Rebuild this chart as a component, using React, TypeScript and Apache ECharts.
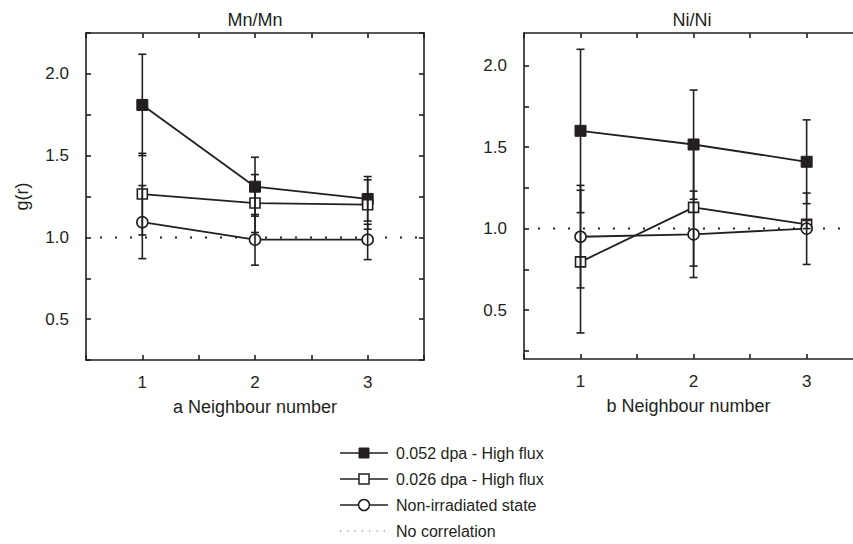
import React, { useEffect, useRef } from "react";
import * as echarts from "echarts";

// ---------- data ----------
const neighbours = [1, 2, 3];

// Panel a: Mn/Mn
const mnHigh052 = [1.81, 1.31, 1.235];
const mnHigh052Low = [1.5, 1.13, 1.1];
const mnHigh052High = [2.12, 1.49, 1.372];
const mnHigh026 = [1.265, 1.21, 1.2];
const mnHigh026Low = [1.015, 1.03, 1.05];
const mnHigh026High = [1.514, 1.384, 1.352];
const mnNonIrr = [1.093, 0.986, 0.986];
const mnNonIrrLow = [0.87, 0.83, 0.864];
const mnNonIrrHigh = [1.317, 1.14, 1.08];

// Panel b: Ni/Ni
const niHigh052 = [1.6, 1.516, 1.41];
const niHigh052Low = [1.098, 1.18, 1.153];
const niHigh052High = [2.1, 1.85, 1.667];
const niHigh026 = [0.796, 1.13, 1.026];
const niHigh026Low = [0.36, 0.77, 1.0];
const niHigh026High = [1.235, 1.49, 1.05];
const niNonIrr = [0.95, 0.965, 1.0];
const niNonIrrLow = [0.636, 0.7, 0.78];
const niNonIrrHigh = [1.265, 1.23, 1.218];

const noCorrelation = 1.0;

const xTickValues = [0.5, 1, 1.5, 2, 2.5, 3, 3.5];
const xLabelValues = [1, 2, 3];
const yTickValues = [0.25, 0.5, 0.75, 1.0, 1.25, 1.5, 1.75, 2.0, 2.25];
const yLabelValues = [0.5, 1.0, 1.5, 2.0];

const seriesNames = [
  "0.052 dpa - High flux",
  "0.026 dpa - High flux",
  "Non-irradiated state",
  "No correlation",
];
const panelTitles = ["Mn/Mn", "Ni/Ni"];
const xAxisTitles = ["a Neighbour number", "b Neighbour number"];
const yAxisTitle = "g(r)";

// ---------- styling ----------
const INK = "#231f20";
const FONT = "Liberation Sans, Arial, sans-serif";
const FS_TICK = 17;
const FS_NAME = 18;
const FS_LEGEND = 16;
const LW = 1.8;

function pts(vals: number[]) {
  return neighbours.map((x, i) => [x, vals[i]]);
}
function errs(lo: number[], hi: number[]) {
  return neighbours.map((x, i) => [x, lo[i], hi[i]]);
}

function renderErrorBar(_params: any, api: any) {
  const x = api.value(0);
  const lo = api.value(1);
  const hi = api.value(2);
  const p1 = api.coord([x, lo]);
  const p2 = api.coord([x, hi]);
  const w = 4;
  const style = { stroke: INK, lineWidth: 1.6, fill: "none" };
  return {
    type: "group",
    children: [
      { type: "line", shape: { x1: p1[0], y1: p1[1], x2: p2[0], y2: p2[1] }, style },
      { type: "line", shape: { x1: p1[0] - w, y1: p1[1], x2: p1[0] + w, y2: p1[1] }, style },
      { type: "line", shape: { x1: p2[0] - w, y1: p2[1], x2: p2[0] + w, y2: p2[1] }, style },
    ],
  };
}

function xAxisDef(gridIndex: number, max: number, position: "bottom" | "top", name?: string) {
  const bottom = position === "bottom";
  return {
    type: "value",
    gridIndex,
    position,
    min: 0.5,
    max,
    name: name || "",
    nameLocation: "middle",
    nameGap: 38,
    nameTextStyle: { color: INK, fontSize: FS_NAME, fontFamily: FONT },
    axisLine: { show: true, onZero: false, lineStyle: { color: INK, width: 1.6 } },
    axisTick: {
      show: true,
      inside: true,
      length: 5,
      customValues: xTickValues.filter((v) => v <= max),
      lineStyle: { color: INK, width: 1.6 },
    },
    axisLabel: {
      show: bottom,
      customValues: xLabelValues,
      margin: 14,
      color: INK,
      fontSize: FS_TICK,
      fontFamily: FONT,
      formatter: (v: number) => String(v),
    },
    splitLine: { show: false },
  };
}

function yAxisDef(
  gridIndex: number,
  min: number,
  max: number,
  position: "left" | "right",
  name?: string
) {
  const left = position === "left";
  return {
    type: "value",
    gridIndex,
    position,
    min,
    max,
    name: name || "",
    nameLocation: "middle",
    nameGap: 55,
    nameTextStyle: { color: INK, fontSize: FS_NAME, fontFamily: FONT },
    axisLine: { show: true, onZero: false, lineStyle: { color: INK, width: 1.6 } },
    axisTick: {
      show: true,
      inside: true,
      length: 5,
      customValues: yTickValues.filter((v) => v >= min && v <= max),
      lineStyle: { color: INK, width: 1.6 },
    },
    axisLabel: {
      show: left,
      customValues: yLabelValues,
      margin: 17,
      color: INK,
      fontSize: FS_TICK,
      fontFamily: FONT,
      formatter: (v: number) => v.toFixed(1),
    },
    splitLine: { show: false },
  };
}

function panelSeries(
  xIdx: number,
  yIdx: number,
  h052: number[], h052lo: number[], h052hi: number[],
  h026: number[], h026lo: number[], h026hi: number[],
  nonIrr: number[], nonIrrLo: number[], nonIrrHi: number[]
) {
  const lineStyle = { color: INK, width: LW };
  const common = {
    type: "line",
    xAxisIndex: xIdx,
    yAxisIndex: yIdx,
    z: 3,
    lineStyle,
    showSymbol: true,
  };
  const errCommon = {
    type: "custom",
    xAxisIndex: xIdx,
    yAxisIndex: yIdx,
    renderItem: renderErrorBar,
    encode: { x: 0, y: [1, 2] },
    z: 4,
    silent: true,
  };
  return [
    {
      ...common,
      name: seriesNames[3],
      data: [[0.5, noCorrelation], [3.5, noCorrelation]],
      showSymbol: false,
      symbol: "none",
      z: 1,
      itemStyle: { color: INK },
      lineStyle: { color: INK, width: 2, type: [2, 13], dashOffset: 1 },
    },
    { ...errCommon, name: "err052", data: errs(h052lo, h052hi) },
    { ...errCommon, name: "err026", data: errs(h026lo, h026hi) },
    { ...errCommon, name: "errNon", data: errs(nonIrrLo, nonIrrHi) },
    {
      ...common,
      name: seriesNames[0],
      data: pts(h052),
      symbol: "rect",
      symbolSize: 11,
      itemStyle: { color: INK, borderColor: INK, borderWidth: 1 },
    },
    {
      ...common,
      name: seriesNames[1],
      data: pts(h026),
      symbol: "rect",
      symbolSize: 10,
      itemStyle: { color: "#ffffff", borderColor: INK, borderWidth: 1.6 },
    },
    {
      ...common,
      name: seriesNames[2],
      data: pts(nonIrr),
      symbol: "circle",
      symbolSize: 11,
      itemStyle: { color: "#ffffff", borderColor: INK, borderWidth: 1.6 },
    },
  ];
}

function textEl(x: number, y: number, text: string, size: number, align: string) {
  return {
    type: "text",
    x,
    y,
    style: {
      text,
      align,
      verticalAlign: "middle",
      fill: INK,
      fontSize: size,
      fontFamily: FONT,
    },
  };
}

function legendGraphics() {
  const x0 = 340;
  const x1 = 388;
  const xm = 364;
  const tx = 396;
  const rows = [453, 479, 505, 531];
  const els: any[] = [];
  rows.forEach((y, i) => {
    if (i < 3) {
      els.push({
        type: "line",
        shape: { x1: x0, y1: y, x2: x1, y2: y },
        style: { stroke: INK, lineWidth: 1.5 },
      });
    } else {
      els.push({
        type: "line",
        shape: { x1: x0, y1: y, x2: x1 - 2, y2: y },
        style: { stroke: "#555", lineWidth: 1, lineDash: [1, 6.3] },
      });
    }
    if (i === 0) {
      els.push({ type: "rect", shape: { x: xm - 5, y: y - 5, width: 10, height: 10 }, style: { fill: INK, stroke: INK, lineWidth: 1 } });
    } else if (i === 1) {
      els.push({ type: "rect", shape: { x: xm - 5, y: y - 5, width: 10, height: 10 }, style: { fill: "#fff", stroke: INK, lineWidth: 1.5 } });
    } else if (i === 2) {
      els.push({ type: "circle", shape: { cx: xm, cy: y, r: 5.5 }, style: { fill: "#fff", stroke: INK, lineWidth: 1.5 } });
    }
    els.push(textEl(tx, y, seriesNames[i], FS_LEGEND, "left"));
  });
  return els;
}

export default function App() {
  const ref = useRef<HTMLDivElement>(null);
  useEffect(() => {
    if (!ref.current) return;
    const chart = echarts.init(ref.current, undefined, { renderer: "svg" });
    const option: any = {
      animation: false,
      backgroundColor: "#ffffff",
      textStyle: { fontFamily: FONT, color: INK },
      grid: [
        { left: 86, top: 33, width: 338, height: 327 },
        { left: 524, top: 33, width: 329, height: 326 },
      ],
      xAxis: [
        xAxisDef(0, 3.5, "bottom", xAxisTitles[0]),
        xAxisDef(0, 3.5, "top"),
        xAxisDef(1, 3.41, "bottom", xAxisTitles[1]),
        xAxisDef(1, 3.41, "top"),
      ],
      yAxis: [
        yAxisDef(0, 0.25, 2.25, "left", yAxisTitle),
        yAxisDef(0, 0.25, 2.25, "right"),
        yAxisDef(1, 0.2, 2.2, "left"),
      ],
      graphic: [
        textEl(255, 20, panelTitles[0], FS_NAME, "center"),
        textEl(692, 20, panelTitles[1], FS_NAME, "center"),
        ...legendGraphics(),
      ],
      series: [
        ...panelSeries(
          0, 0,
          mnHigh052, mnHigh052Low, mnHigh052High,
          mnHigh026, mnHigh026Low, mnHigh026High,
          mnNonIrr, mnNonIrrLow, mnNonIrrHigh
        ),
        ...panelSeries(
          2, 2,
          niHigh052, niHigh052Low, niHigh052High,
          niHigh026, niHigh026Low, niHigh026High,
          niNonIrr, niNonIrrLow, niNonIrrHigh
        ),
      ],
    };
    chart.setOption(option);
    return () => chart.dispose();
  }, []);
  return (
    <div
      ref={ref}
      style={{ position: "fixed", left: 0, top: 0, width: 853, height: 544 }}
    />
  );
}
